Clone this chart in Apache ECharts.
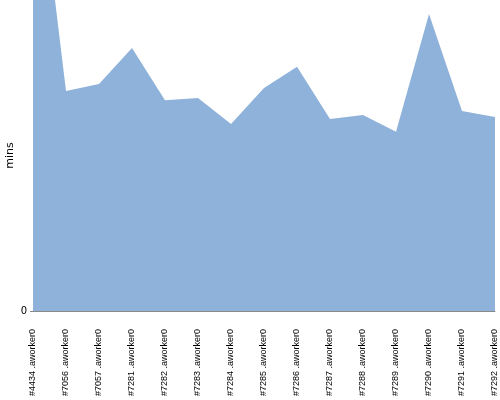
<!DOCTYPE html>
<html><head><meta charset="utf-8">
<script src="https://cdn.jsdelivr.net/npm/echarts@6/dist/echarts.min.js"></script>
<style>html,body{margin:0;padding:0;background:#fff}#c{width:500px;height:400px}</style>
</head><body><div id="c"></div>
<script>
var categories = ["#4434 .aworker0","#7056 .aworker0","#7057 .aworker0","#7281 .aworker0","#7282 .aworker0","#7283 .aworker0","#7284 .aworker0","#7285 .aworker0","#7286 .aworker0","#7287 .aworker0","#7288 .aworker0","#7289 .aworker0","#7290 .aworker0","#7291 .aworker0","#7292 .aworker0"];
var minsValues = [158.5, 70.7, 73.0, 84.6, 67.8, 68.5, 60.1, 71.7, 78.5, 61.7, 63.0, 57.6, 95.5, 64.3, 62.4];
var yTickValues = [0];

var chart = echarts.init(document.getElementById('c'), null, {renderer: 'canvas'});
chart.setOption({
  animation: false,
  grid: {left: 33, right: 5, top: 0, bottom: 89, containLabel: false, outerBoundsMode: 'none'},
  xAxis: {
    type: 'category', data: categories, boundaryGap: false,
    axisLine: {lineStyle: {color: '#8a8a8a', width: 1}},
    axisTick: {show: false},
    axisLabel: {rotate: 90, margin: 18, fontSize: 9, color: '#000', fontFamily: 'Liberation Sans', interval: 0}
  },
  yAxis: {
    type: 'value', min: 0, max: 100, interval: 100,
    name: 'mins', nameLocation: 'middle', nameGap: 17, nameRotate: 90, nameMoveOverlap: false,
    nameTextStyle: {fontSize: 11, color: '#000', fontFamily: 'DejaVu Sans'},
    axisLine: {show: true, lineStyle: {color: '#8a8a8a'}},
    axisTick: {show: true, length: 3, customValues: yTickValues, lineStyle: {color: '#8a8a8a'}},
    splitLine: {show: false},
    axisLabel: {fontSize: 10, color: '#000', margin: 6, fontFamily: 'DejaVu Sans', customValues: yTickValues}
  },
  series: [{
    type: 'line', data: minsValues, symbol: 'none', clip: true,
    lineStyle: {width: 0, color: '#8fb2da'},
    areaStyle: {color: '#8fb2da', opacity: 1}
  }]
});
</script></body></html>
